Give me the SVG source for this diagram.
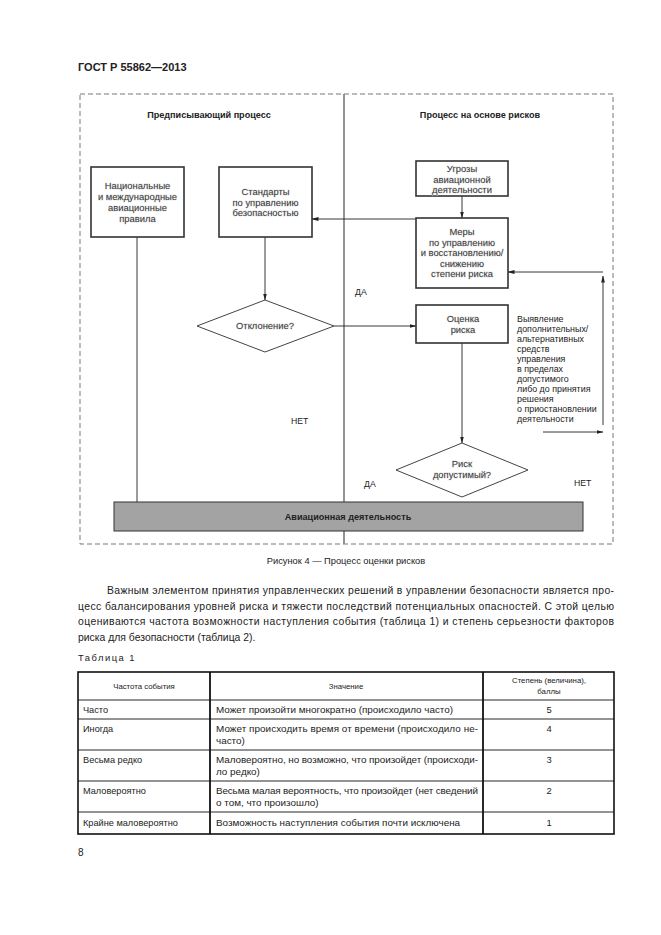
<svg xmlns="http://www.w3.org/2000/svg" width="661" height="935" viewBox="0 0 661 935">
<defs>
<marker id="ah" markerWidth="7" markerHeight="5" refX="6.5" refY="2.5" orient="auto" markerUnits="userSpaceOnUse">
<path d="M0,0.6 L7,2.5 L0,4.4 Z" fill="#222"/>
</marker>
<style>
text{font-family:"Liberation Sans",Arial,sans-serif;fill:#222}
.hd{font-size:11px;font-weight:bold}
.ti{font-size:9.1px;font-weight:bold;text-anchor:middle}
.bx{font-size:9.4px;text-anchor:middle;fill:#3a3a3a;stroke:#e2e2e2;stroke-width:0.8;paint-order:stroke}
.lb{font-size:8.7px}
.sm{font-size:8.9px}
.cap{font-size:9.3px;text-anchor:middle}
.p{font-size:10.4px}
.th{font-size:7.8px;text-anchor:middle}
.td{font-size:9.2px}
.td2{font-size:9.9px}
.tn{font-size:9.4px;text-anchor:middle}
.box{fill:#fff;stroke:#333;stroke-width:1.6}
.dia{fill:#fff;stroke:#444;stroke-width:1}
.ln{stroke:#222;stroke-width:0.9;fill:none}
.tl{stroke:#111;fill:none}
</style>
</defs>
<rect width="661" height="935" fill="#fff"/>
<text class="hd" x="78" y="71">ГОСТ Р 55862—2013</text>

<g id="frame">
<rect x="80" y="94" width="533" height="450" fill="none" stroke="#555" stroke-width="0.8" stroke-dasharray="5,3"/>
<line x1="344" y1="94" x2="344" y2="544" stroke="#888" stroke-width="1.8"/>
<text class="ti" x="209" y="118">Предписывающий процесс</text>
<text class="ti" x="480" y="118">Процесс на основе рисков</text>
</g>

<g id="connectors">
<line class="ln" x1="137" y1="237" x2="137" y2="502"/>
<line class="ln" x1="265" y1="237" x2="265" y2="300" marker-end="url(#ah)"/>
<line class="ln" x1="334" y1="326" x2="416" y2="326" marker-end="url(#ah)"/>
<line class="ln" x1="462" y1="196" x2="462" y2="218" marker-end="url(#ah)"/>
<line class="ln" x1="416" y1="219" x2="312" y2="219" marker-end="url(#ah)"/>
<line class="ln" x1="603" y1="425" x2="603" y2="276" marker-end="url(#ah)"/>
<line class="ln" x1="603" y1="272" x2="508" y2="272" marker-end="url(#ah)"/>
<line class="ln" x1="543" y1="432" x2="603" y2="432" marker-end="url(#ah)"/>
<line class="ln" x1="462" y1="343" x2="462" y2="443" marker-end="url(#ah)"/>
</g>

<g id="n-national">
<rect class="box" x="91" y="167" width="93" height="70"/>
<text class="bx" x="137.5" y="189">Национальные</text>
<text class="bx" x="137.5" y="200">и международные</text>
<text class="bx" x="137.5" y="211">авиационные</text>
<text class="bx" x="137.5" y="222">правила</text>
</g>

<g id="n-standards">
<rect class="box" x="219" y="167" width="93" height="70"/>
<text class="bx" x="265.5" y="195">Стандарты</text>
<text class="bx" x="265.5" y="205.5">по управлению</text>
<text class="bx" x="265.5" y="216">безопасностью</text>
</g>

<g id="n-deviation">
<polygon class="dia" points="265,300 334,326 265,352 197,326"/>
<text class="bx" x="265" y="329">Отклонение?</text>
</g>

<g id="n-threats">
<rect class="box" x="416" y="161" width="92" height="35"/>
<text class="bx" x="462" y="172">Угрозы</text>
<text class="bx" x="462" y="182.5">авиационной</text>
<text class="bx" x="462" y="193">деятельности</text>
</g>

<g id="n-measures">
<rect class="box" x="416" y="218" width="92" height="70"/>
<text class="bx" x="462" y="235">Меры</text>
<text class="bx" x="462" y="245.5">по управлению</text>
<text class="bx" x="462" y="256">и восстановлению/</text>
<text class="bx" x="462" y="266.5">снижению</text>
<text class="bx" x="462" y="277">степени риска</text>
</g>

<g id="n-assess">
<rect class="box" x="416" y="305" width="92" height="38"/>
<text class="bx" x="463" y="322">Оценка</text>
<text class="bx" x="463" y="333">риска</text>
</g>

<g id="n-acceptable">
<polygon class="dia" points="462,443 528,470 462,497 396,470"/>
<text class="bx" x="462" y="467">Риск</text>
<text class="bx" x="462" y="478">допустимый?</text>
</g>

<g id="n-activity">
<rect x="114" y="502" width="469" height="29" fill="#a3a3a3" stroke="#333" stroke-width="1"/>
<text class="ti" x="348" y="519.5">Авиационная деятельность</text>
</g>

<g id="labels">
<text class="lb" x="355" y="295">ДА</text>
<text class="lb" x="291" y="424">НЕТ</text>
<text class="lb" x="364" y="487">ДА</text>
<text class="lb" x="574" y="486">НЕТ</text>
<g class="sm">
<text x="517" y="322">Выявление</text>
<text x="517" y="332">дополнительных/</text>
<text x="517" y="342">альтернативных</text>
<text x="517" y="352">средств</text>
<text x="517" y="362">управления</text>
<text x="517" y="372">в пределах</text>
<text x="517" y="382">допустимого</text>
<text x="517" y="392">либо до принятия</text>
<text x="517" y="402">решения</text>
<text x="517" y="412">о приостановлении</text>
<text x="517" y="422">деятельности</text>
</g>
</g>

<text class="cap" x="346" y="564">Рисунок 4 — Процесс оценки рисков</text>

<g class="p">
<text x="107" y="594" textLength="507" lengthAdjust="spacing">Важным элементом принятия управленческих решений в управлении безопасности является про-</text>
<text x="78" y="609.5" textLength="536" lengthAdjust="spacing">цесс балансирования уровней риска и тяжести последствий потенциальных опасностей. С этой целью</text>
<text x="78" y="625" textLength="536" lengthAdjust="spacing">оцениваются частота возможности наступления события (таблица 1) и степень серьезности факторов</text>
<text x="78" y="640.5">риска для безопасности (таблица 2).</text>
</g>

<text x="78" y="661" style="font-size:9.4px;letter-spacing:1.5px">Таблица 1</text>

<g id="table">
<rect class="tl" x="78" y="672" width="536" height="162" stroke-width="1.6"/>
<line class="tl" x1="210" y1="672" x2="210" y2="834" stroke-width="1.8"/>
<line class="tl" x1="483" y1="672" x2="483" y2="834" stroke-width="1.8"/>
<line class="tl" x1="78" y1="700" x2="614" y2="700" stroke-width="0.9"/>
<line class="tl" x1="78" y1="719" x2="614" y2="719" stroke-width="0.9"/>
<line class="tl" x1="78" y1="750" x2="614" y2="750" stroke-width="0.9"/>
<line class="tl" x1="78" y1="781" x2="614" y2="781" stroke-width="0.9"/>
<line class="tl" x1="78" y1="812" x2="614" y2="812" stroke-width="0.9"/>
<text class="th" x="144" y="689">Частота события</text>
<text class="th" x="346" y="689">Значение</text>
<text class="th" x="549" y="683">Степень (величина),</text>
<text class="th" x="549" y="694">баллы</text>

<text class="td" x="83" y="713">Часто</text>
<text class="td2" x="216" y="713">Может произойти многократно (происходило часто)</text>
<text class="tn" x="549" y="713">5</text>

<text class="td" x="83" y="732">Иногда</text>
<text class="td2" x="216" y="732" textLength="262" lengthAdjust="spacing">Может происходить время от времени (происходило не-</text>
<text class="td2" x="216" y="744">часто)</text>
<text class="tn" x="549" y="732">4</text>

<text class="td" x="83" y="763">Весьма редко</text>
<text class="td2" x="216" y="763" textLength="262" lengthAdjust="spacing">Маловероятно, но возможно, что произойдет (происходи-</text>
<text class="td2" x="216" y="775">ло редко)</text>
<text class="tn" x="549" y="763">3</text>

<text class="td" x="83" y="794">Маловероятно</text>
<text class="td2" x="216" y="794" textLength="262" lengthAdjust="spacing">Весьма малая вероятность, что произойдет (нет сведений</text>
<text class="td2" x="216" y="806">о том, что произошло)</text>
<text class="tn" x="549" y="794">2</text>

<text class="td" x="83" y="826">Крайне маловероятно</text>
<text class="td2" x="216" y="826">Возможность наступления события почти исключена</text>
<text class="tn" x="549" y="826">1</text>
</g>

<text x="78" y="856" style="font-size:10px">8</text>
</svg>
